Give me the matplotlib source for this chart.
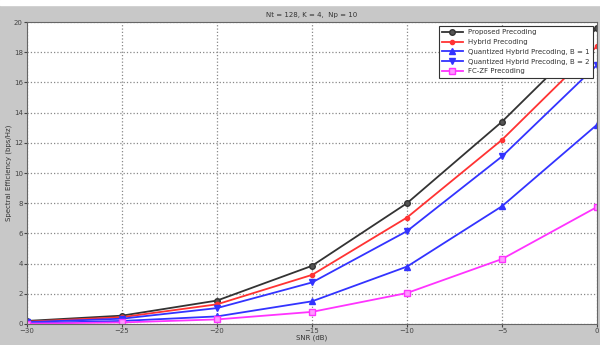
import matplotlib
matplotlib.use("Agg")
import matplotlib.pyplot as plt

# SNR points and spectral efficiency of each scheme
snr = [-30, -25, -20, -15, -10, -5, 0]
proposed = [0.2, 0.55, 1.55, 3.85, 8.0, 13.4, 19.6]
hybrid = [0.15, 0.45, 1.3, 3.25, 7.05, 12.2, 18.4]
quant_b1 = [0.05, 0.2, 0.5, 1.5, 3.8, 7.8, 13.2]
quant_b2 = [0.12, 0.35, 1.05, 2.75, 6.15, 11.1, 17.15]
fczf = [0.02, 0.1, 0.3, 0.8, 2.05, 4.3, 7.75]

fig = plt.figure(figsize=(6, 3.45), dpi=100, facecolor="#c8c8c8")
ax = fig.add_axes([0.045, 0.061, 0.95, 0.875])

ax.plot(snr, proposed, color="#333333", marker="o", ms=4, lw=1.3,
        mfc="#555555", label="Proposed Precoding")
ax.plot(snr, hybrid, color="#ff3333", marker=".", ms=6, lw=1.3,
        label="Hybrid Precoding")
ax.plot(snr, quant_b1, color="#3333ff", marker="^", ms=4, lw=1.3,
        label="Quantized Hybrid Precoding, B = 1")
ax.plot(snr, quant_b2, color="#3333ff", marker="v", ms=4, lw=1.3,
        label="Quantized Hybrid Precoding, B = 2")
ax.plot(snr, fczf, color="#ff33ff", marker="s", ms=4, lw=1.3,
        mfc="#ff99ff", label="FC-ZF Precoding")

ax.set_xlim(-30, 0)
ax.set_ylim(0, 20)
ax.set_xticks(range(-30, 1, 5))
ax.set_yticks(range(0, 21, 2))
ax.tick_params(labelsize=5, length=2, pad=1, colors="#444444")
ax.grid(True, linestyle=":", color="#888888", lw=0.9)
for s in ax.spines.values():
    s.set_color("#666666")

ax.set_title("Nt = 128, K = 4,  Np = 10", fontsize=5, color="#333333", pad=4)
ax.set_xlabel("SNR (dB)", fontsize=5, color="#333333", labelpad=0)
ax.set_ylabel("Spectral Efficiency (bps/Hz)", fontsize=5, color="#333333",
              labelpad=1)

leg = ax.legend(loc="upper right", fontsize=5, frameon=True, fancybox=False,
                edgecolor="#333333", borderpad=0.45, labelspacing=0.55,
                handlelength=3, borderaxespad=0, framealpha=1,
                bbox_to_anchor=(0.993, 0.987))
leg.get_frame().set_linewidth(0.8)
for t in leg.get_texts():
    t.set_color("#333333")

# white strip at the top (cropped page)
fig.patches.append(plt.Rectangle((0, 0.985), 1, 0.015, transform=fig.transFigure,
                                 color="white", zorder=-1))

fig.savefig("out.png", dpi=100, facecolor=fig.get_facecolor())
